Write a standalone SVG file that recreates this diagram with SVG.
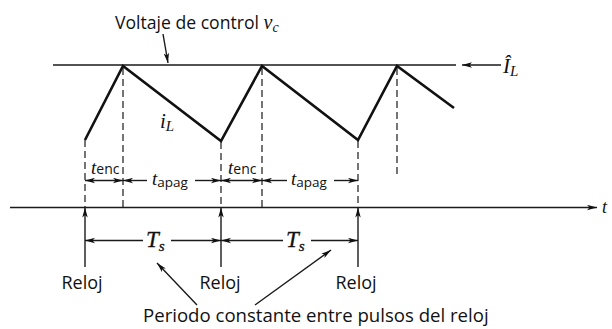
<svg xmlns="http://www.w3.org/2000/svg" width="612" height="329" viewBox="0 0 612 329">
<style>
.ln{stroke:#1a1a1a;stroke-width:1.4;fill:none}
.wave{stroke:#111;stroke-width:2.6;fill:none;stroke-linejoin:miter}
.dash{stroke:#1a1a1a;stroke-width:1.2;fill:none;stroke-dasharray:7,4}
.sans{font-family:"Open Sans","Noto Sans",sans-serif;fill:#111}
.math{font-family:"Liberation Serif","Times New Roman",serif;font-style:italic;fill:#111}
.sub{font-family:"Open Sans","Noto Sans",sans-serif;font-style:normal}
</style>
<defs>
<marker id="ah" markerUnits="userSpaceOnUse" markerWidth="10" markerHeight="6" refX="10" refY="3" orient="auto-start-reverse">
<path d="M0,0.3 L10,3 L0,5.7 L2.5,3 z" fill="#111"/>
</marker>
</defs>
<g id="connectors">
<line class="ln" x1="53" y1="65" x2="456" y2="65"/>
<line class="ln" x1="501" y1="65" x2="462" y2="65" marker-end="url(#ah)"/>
<line class="ln" x1="163" y1="34" x2="168" y2="63" marker-end="url(#ah)"/>
<line class="ln" x1="10" y1="207.5" x2="597" y2="207.5" marker-end="url(#ah)"/>
<polyline class="wave" points="85,140 123,66 221,141 262,66 358,140 397,66 454,108"/>
<line class="dash" x1="85" y1="140" x2="85" y2="207"/>
<line class="dash" x1="123" y1="68" x2="123" y2="207"/>
<line class="dash" x1="221" y1="142" x2="221" y2="207"/>
<line class="dash" x1="262" y1="68" x2="262" y2="207"/>
<line class="dash" x1="358" y1="141" x2="358" y2="207"/>
<line class="dash" x1="397" y1="68" x2="397" y2="178"/>
<line class="ln" x1="85" y1="180.5" x2="123" y2="180.5" marker-start="url(#ah)" marker-end="url(#ah)"/>
<line class="ln" x1="147" y1="180.5" x2="123" y2="180.5" marker-end="url(#ah)"/>
<line class="ln" x1="195" y1="180.5" x2="221" y2="180.5" marker-end="url(#ah)"/>
<line class="ln" x1="221" y1="180.5" x2="262" y2="180.5" marker-start="url(#ah)" marker-end="url(#ah)"/>
<line class="ln" x1="287" y1="180.5" x2="262" y2="180.5" marker-end="url(#ah)"/>
<line class="ln" x1="334" y1="180.5" x2="358" y2="180.5" marker-end="url(#ah)"/>
<line class="ln" x1="85" y1="267" x2="85" y2="207.5" marker-end="url(#ah)"/>
<line class="ln" x1="221" y1="267" x2="221" y2="207.5" marker-end="url(#ah)"/>
<line class="ln" x1="358" y1="267" x2="358" y2="207.5" marker-end="url(#ah)"/>
<line class="ln" x1="143" y1="240.5" x2="85" y2="240.5" marker-end="url(#ah)"/>
<line class="ln" x1="171" y1="240.5" x2="221" y2="240.5" marker-end="url(#ah)"/>
<line class="ln" x1="283" y1="240.5" x2="221" y2="240.5" marker-end="url(#ah)"/>
<line class="ln" x1="311" y1="240.5" x2="358" y2="240.5" marker-end="url(#ah)"/>
<line class="ln" x1="197" y1="305" x2="157" y2="263" marker-end="url(#ah)"/>
<line class="ln" x1="255" y1="305" x2="331" y2="250" marker-end="url(#ah)"/>
</g>
<g id="label-vc"><text x="115" y="29" class="sans" font-size="17.6">Voltaje de control <tspan class="math" font-size="20">v</tspan><tspan class="math" font-size="14" dy="3">c</tspan></text></g>
<g id="label-IL"><text x="503" y="73" class="math" font-size="21">Î<tspan font-size="15" dy="3">L</tspan></text></g>
<g id="label-iL"><text x="160" y="128" class="math" font-size="21">i<tspan font-size="15" dy="3">L</tspan></text></g>
<g id="label-t"><text x="602" y="213" class="math" font-size="18">t</text></g>
<g id="label-tenc1"><text x="91" y="174" class="math" font-size="19">t<tspan class="sub" font-size="14" dy="0">enc</tspan></text></g>
<g id="label-tapag1"><text x="152" y="185" class="math" font-size="19">t<tspan class="sub" font-size="13.5" dy="2">apag</tspan></text></g>
<g id="label-tenc2"><text x="228" y="174" class="math" font-size="19">t<tspan class="sub" font-size="14" dy="0">enc</tspan></text></g>
<g id="label-tapag2"><text x="291" y="185" class="math" font-size="19">t<tspan class="sub" font-size="13.5" dy="2">apag</tspan></text></g>
<g id="label-Ts1"><text x="146" y="247" class="math" font-size="23" stroke="#111" stroke-width="0.3">T<tspan font-size="15" dy="4">s</tspan></text></g>
<g id="label-Ts2"><text x="286" y="247" class="math" font-size="23" stroke="#111" stroke-width="0.3">T<tspan font-size="15" dy="4">s</tspan></text></g>
<g id="reloj1"><text x="82" y="289" class="sans" font-size="18" text-anchor="middle">Reloj</text></g>
<g id="reloj2"><text x="220" y="289" class="sans" font-size="18" text-anchor="middle">Reloj</text></g>
<g id="reloj3"><text x="356" y="289" class="sans" font-size="18" text-anchor="middle">Reloj</text></g>
<g id="label-periodo"><text x="143" y="322" class="sans" font-size="18.6">Periodo constante entre pulsos del reloj</text></g>
</svg>
